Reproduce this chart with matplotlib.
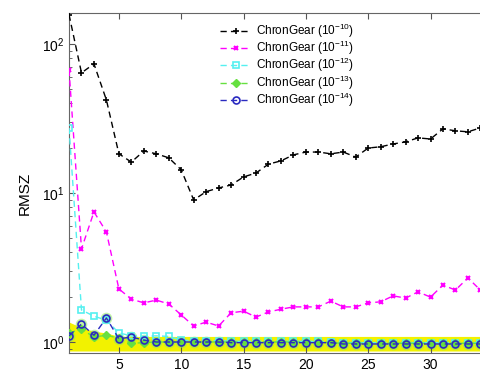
import matplotlib
matplotlib.use('Agg')
import matplotlib.pyplot as plt
from matplotlib.ticker import LogLocator, NullFormatter, FixedLocator

plt.rcParams['font.family'] = ['Liberation Sans', 'DejaVu Sans']
plt.rcParams['mathtext.fontset'] = 'custom'
plt.rcParams['mathtext.rm'] = 'Liberation Sans'
plt.rcParams['mathtext.it'] = 'Liberation Sans:italic'

steps = list(range(1, 35))

rmsz_e10 = [157, 63.9, 73.4, 42, 18.3, 16.1, 19.1, 18.3, 17.2, 14.3,
            8.97, 10.2, 10.8, 11.3, 12.8, 13.6, 15.6, 16.4, 18.0, 18.8,
            18.8, 18.3, 18.8, 17.4, 20.0, 20.4, 21.3, 22.0, 23.4, 23.0,
            26.9, 26.1, 25.7, 27.3]
rmsz_e11 = [66.9, 4.21, 7.46, 5.47, 2.27, 1.94, 1.83, 1.91, 1.80, 1.52,
            1.28, 1.36, 1.28, 1.57, 1.61, 1.47, 1.59, 1.66, 1.72, 1.72,
            1.72, 1.88, 1.72, 1.72, 1.83, 1.86, 2.04, 1.97, 2.17, 2.00,
            2.41, 2.23, 2.69, 2.23]
rmsz_e12 = [27.3, 1.64, 1.49, 1.40, 1.15, 1.10, 1.09, 1.10, 1.09, 1.03,
            1.02, 1.02, 1.02, 1.01, 1.01, 1.01, 1.01, 1.01, 1.01, 1.01,
            1.01, 1.00, 0.99, 0.99, 0.99, 0.99, 0.99, 0.99, 0.99, 0.99,
            0.99, 0.99, 0.99, 0.99]
rmsz_e13 = [1.15, 1.22, 1.08, 1.11, 1.06, 0.98, 0.99, 1.00, 1.00, 1.00,
            1.00, 1.00, 1.00, 1.00, 1.00, 1.00, 1.00, 1.00, 1.00, 1.00,
            1.00, 0.99, 0.98, 0.98, 0.98, 0.98, 0.98, 0.98, 0.98, 0.98,
            0.98, 0.98, 0.98, 0.98]
rmsz_e14 = [1.10, 1.32, 1.11, 1.45, 1.05, 1.08, 1.03, 1.00, 1.00, 1.00,
            1.00, 1.00, 1.00, 0.99, 0.99, 0.99, 0.99, 0.99, 0.99, 0.99,
            0.99, 0.99, 0.97, 0.97, 0.97, 0.97, 0.97, 0.97, 0.97, 0.97,
            0.97, 0.97, 0.97, 0.97]

band_hi = [1.36, 1.25, 1.18, 1.15] + [1.09] * 30
band_lo = [0.87] * 34

labels = ['ChronGear ($10^{-10}$)', 'ChronGear ($10^{-11}$)',
          'ChronGear ($10^{-12}$)', 'ChronGear ($10^{-13}$)',
          'ChronGear ($10^{-14}$)']
xticks = [5, 10, 15, 20, 25, 30]

fig = plt.figure(figsize=(4.81, 3.77), dpi=100)
ax = fig.add_axes([0.1435, 0.0637, 0.8565, 0.9018])

# ensemble band
ax.fill_between(steps, band_lo, band_hi, color='#f2f200', lw=0, zorder=1)
ax.scatter(steps, rmsz_e14, s=70, color='#8fe860', alpha=0.55, lw=0, zorder=1.5)

dash = (0, (4.5, 3))
ax.plot(steps, rmsz_e10, color='k', ls=dash, lw=1.0, marker='+', ms=5, mew=1.2,
        label=labels[0], zorder=3)
ax.plot(steps, rmsz_e11, color='#ff00ff', ls=dash, lw=1.0, marker='x', ms=3.5, mew=1.5,
        label=labels[1], zorder=3)
ax.plot(steps, rmsz_e12, color='#55f0f0', ls=dash, lw=1.0, marker='s', ms=4.5,
        mfc='none', mew=1.2, label=labels[2], zorder=3)
ax.plot(steps, rmsz_e13, color='#66e040', ls=dash, lw=1.0, marker='D', ms=4,
        label=labels[3], zorder=3)
ax.plot(steps, rmsz_e14, color='#2a2ac0', ls=dash, lw=1.0, marker='o', ms=5,
        mfc='none', mew=1.2, label=labels[4], zorder=4)

ax.set_yscale('log')
ax.set_ylim(0.844, 161)
ax.set_xlim(1, 34.05)
ax.xaxis.set_major_locator(FixedLocator(xticks))
ax.yaxis.set_major_locator(LogLocator(base=10))
ax.yaxis.set_minor_locator(LogLocator(base=10, subs=range(2, 10)))
ax.yaxis.set_minor_formatter(NullFormatter())
ax.tick_params(which='both', direction='in', top=True, right=False, labelsize=10,
               color='#555555')
ax.tick_params(which='major', length=4)
ax.tick_params(which='minor', length=2.5)
for s in ['left', 'bottom', 'top']:
    ax.spines[s].set_color('#666666')
ax.spines['right'].set_visible(False)
ax.set_ylabel('RMSZ', fontsize=11)
ax.yaxis.set_label_coords(-0.09, 0.47)

ax.legend(loc='upper left', bbox_to_anchor=(0.367, 0.975), frameon=False,
          fontsize=8.5, handlelength=2.6, handletextpad=0.4, labelspacing=-0.07,
          borderpad=0, borderaxespad=0)

fig.savefig('out.png', dpi=100)
